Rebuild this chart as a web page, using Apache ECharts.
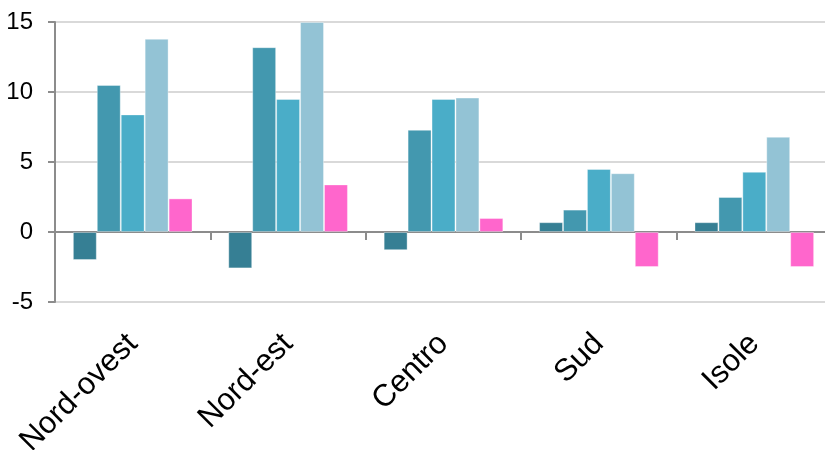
<!DOCTYPE html>
<html>
<head>
<meta charset="utf-8">
<script src="https://cdn.jsdelivr.net/npm/echarts@6/dist/echarts.min.js"></script>
<style>
  html, body { margin: 0; padding: 0; background: #fff; }
  #chart { width: 825px; height: 450px; }
</style>
</head>
<body>
<div id="chart"></div>
<script>
// Regions on the category axis
const categories = ['Nord-ovest', 'Nord-est', 'Centro', 'Sud', 'Isole'];

// Five series of values per region
const serie1 = [-2.0, -2.6, -1.3, 0.7, 0.7];
const serie2 = [10.5, 13.2, 7.3, 1.6, 2.5];
const serie3 = [8.4, 9.5, 9.5, 4.5, 4.3];
const serie4 = [13.8, 15.0, 9.6, 4.2, 6.8];
const serie5 = [2.4, 3.4, 1.0, -2.5, -2.5];

const seriesData = [serie1, serie2, serie3, serie4, serie5];
const colors = ['#367F94', '#4398AF', '#4AADC8', '#93C3D5', '#FF66CC'];

// Y axis range and step
const yMin = -5, yMax = 15, yStep = 5;

const fontFamily = '"Liberation Sans", Arial, sans-serif';

const chart = echarts.init(document.getElementById('chart'), null, { renderer: 'canvas' });

chart.setOption({
  animation: false,
  backgroundColor: '#ffffff',
  // plot area runs a little past the right edge of the canvas
  grid: {
    left: 55, top: 22, width: 777, height: 280,
    containLabel: false,
    outerBoundsMode: 'none'
  },
  xAxis: [
    {
      // axis line drawn at zero with ticks between categories
      type: 'category',
      data: categories,
      axisLine: { onZero: true, lineStyle: { color: '#8c8c8c', width: 2 } },
      axisTick: { show: true, length: 8, lineStyle: { color: '#8c8c8c', width: 2 } },
      axisLabel: { show: false },
      splitLine: { show: false }
    },
    {
      // category names along the bottom of the plot
      type: 'category',
      data: categories,
      position: 'bottom',
      axisLine: { show: false, onZero: false },
      axisTick: { show: false },
      axisLabel: {
        rotate: 45,
        margin: 37,
        fontSize: 31,
        color: '#000',
        fontFamily: fontFamily
      },
      splitLine: { show: false }
    }
  ],
  yAxis: {
    type: 'value',
    min: yMin,
    max: yMax,
    interval: yStep,
    axisLine: { show: true, lineStyle: { color: '#8c8c8c', width: 2 } },
    axisTick: { show: true, length: 7, lineStyle: { color: '#8c8c8c', width: 2 } },
    axisLabel: { fontSize: 24, color: '#000', margin: 22, fontFamily: fontFamily },
    splitLine: { show: true, lineStyle: { color: '#d9d9d9', width: 2 } }
  },
  series: seriesData.map((d, i) => ({
    type: 'bar',
    xAxisIndex: 0,
    data: d,
    barGap: '0%',
    barCategoryGap: '23%',
    itemStyle: {
      color: colors[i],
      borderColor: 'rgba(255,255,255,0.35)',
      borderWidth: 1
    }
  }))
});
</script>
</body>
</html>
